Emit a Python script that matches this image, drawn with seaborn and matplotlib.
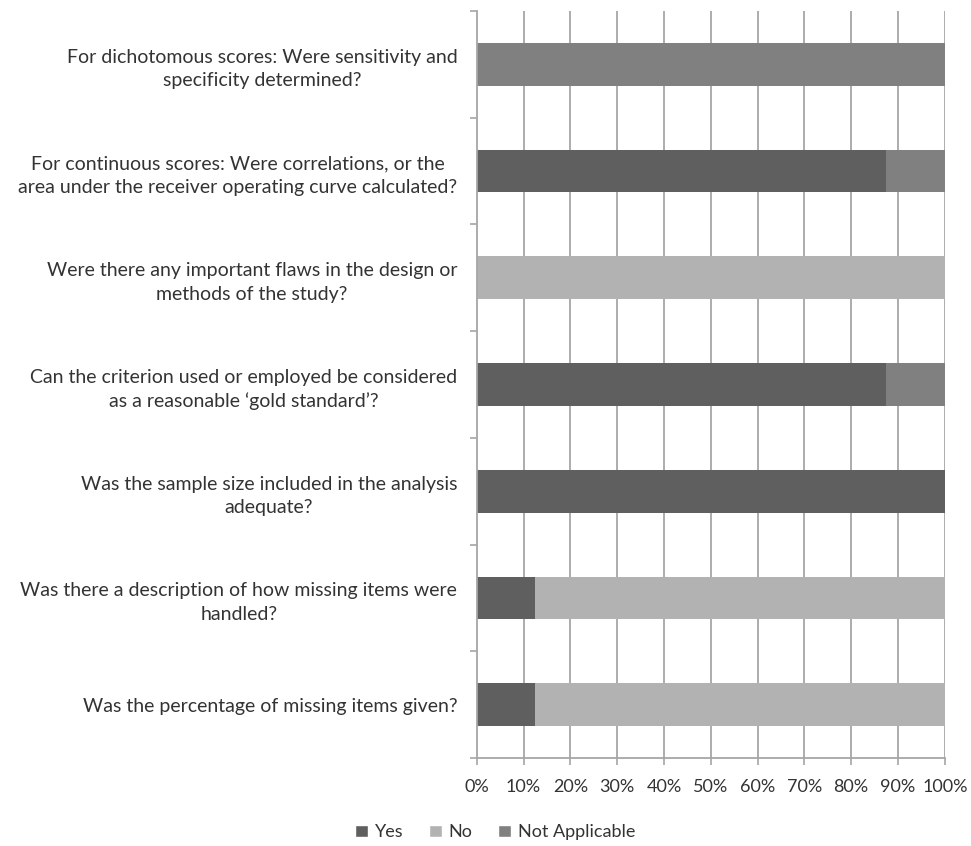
import matplotlib
matplotlib.use("Agg")
import matplotlib.pyplot as plt
import pandas as pd
import seaborn as sns
from matplotlib.patches import Patch
from matplotlib.ticker import FixedLocator, PercentFormatter

sns.set_theme(style="white")
plt.rcParams["font.family"] = ["Lato", "DejaVu Sans"]

QUESTIONS = [
    "For dichotomous scores: Were sensitivity and\nspecificity determined?",
    "For continuous scores: Were correlations, or the\narea under the receiver operating curve calculated?",
    "Were there any important flaws in the design or\nmethods of the study?",
    "Can the criterion used or employed be considered\nas a reasonable \u2018gold standard\u2019?",
    "Was the sample size included in the analysis\nadequate?",
    "Was there a description of how missing items were\nhandled?",
    "Was the percentage of missing items given?",
]
YES = [0, 87.5, 0, 87.5, 100, 12.5, 12.5]
NO = [0, 0, 100, 0, 0, 87.5, 87.5]
NOT_APPLICABLE = [100, 12.5, 0, 12.5, 0, 0, 0]

COLORS = {"Yes": "#5f5f5f", "No": "#b2b2b2", "Not Applicable": "#808080"}
TEXT_COLOR = "#333333"
GRID_COLOR = "#a6a6a6"

df = pd.DataFrame({"question": QUESTIONS, "Yes": YES, "No": NO, "Not Applicable": NOT_APPLICABLE})
df["cum_yes"] = df["Yes"]
df["cum_no"] = df["cum_yes"] + df["No"]
df["cum_na"] = df["cum_no"] + df["Not Applicable"]

fig = plt.figure(figsize=(9.71, 8.46), dpi=100)
ax = fig.add_axes([0.491, 0.104, 0.482, 0.883])

# grid first, bars on top
for x in range(10, 101, 10):
    ax.axvline(x, color=GRID_COLOR, lw=1.3, zorder=0)

# stacked by overlaying cumulative totals, widest first
for col, name in [("cum_na", "Not Applicable"), ("cum_no", "No"), ("cum_yes", "Yes")]:
    sns.barplot(
        data=df, x=col, y="question", orient="h", color=COLORS[name],
        width=0.4, saturation=1, ax=ax, zorder=2, linewidth=0,
    )

ax.set_xlim(0, 100)
ax.set_ylim(6.5, -0.5)
ax.set_xlabel("")
ax.set_ylabel("")
ax.xaxis.set_major_locator(FixedLocator(range(0, 101, 10)))
ax.xaxis.set_major_formatter(PercentFormatter(decimals=0))
ax.tick_params(axis="x", length=5, width=1.2, color=GRID_COLOR, labelsize=13,
               labelcolor=TEXT_COLOR, pad=10, bottom=True)
ax.tick_params(axis="y", which="major", length=0, labelsize=14, labelcolor=TEXT_COLOR, pad=14)
ax.yaxis.set_minor_locator(FixedLocator([i + 0.5 for i in range(-1, 7)]))
ax.tick_params(axis="y", which="minor", length=5, width=1.2, color=GRID_COLOR, left=True)
for lab in ax.get_yticklabels():
    lab.set_multialignment("center")
    lab.set_linespacing(1.45)

for side in ["top", "right"]:
    ax.spines[side].set_visible(False)
for side in ["left", "bottom"]:
    ax.spines[side].set_color(GRID_COLOR)
    ax.spines[side].set_linewidth(1.3)

handles = [Patch(facecolor=COLORS[k], label=k) for k in ["Yes", "No", "Not Applicable"]]
fig.legend(handles=handles, loc="center", bbox_to_anchor=(0.51, 0.016), ncol=3, frameon=False,
           fontsize=13, labelcolor=TEXT_COLOR, handlelength=0.7, handleheight=0.7,
           handletextpad=0.4, columnspacing=1.4)

fig.savefig("out.png", dpi=100)
